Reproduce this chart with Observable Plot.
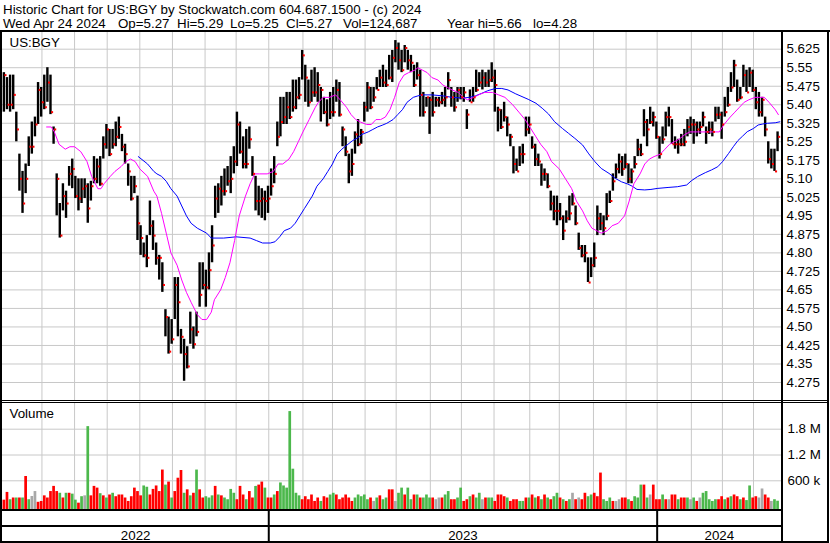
<!DOCTYPE html>
<html><head><meta charset="utf-8">
<script src="https://cdn.jsdelivr.net/npm/d3@7"></script>
<script src="https://cdn.jsdelivr.net/npm/@observablehq/plot@0.6"></script>
<style>
body{margin:0;background:#fff;}
#root{position:relative;width:830px;height:543px;overflow:hidden;background:#fff;font-family:Arial,"Liberation Sans",sans-serif;}
.ln{position:absolute;background:#000;}
#root svg{position:absolute;}
</style></head><body><div id="root"></div>
<script>
// ---- header text ----
const titleText = "Historic Chart for US:BGY by Stockwatch.com 604.687.1500 - (c) 2024";
const quoteParts = ["Wed Apr 24 2024", "Op=5.27", "Hi=5.29", "Lo=5.25", "Cl=5.27", "Vol=124,687", "Year hi=5.66", "lo=4.28"];
const symbolLabel = "US:BGY";

// ---- price ticks ----
const priceTicks = [4.275,4.35,4.425,4.5,4.575,4.65,4.725,4.8,4.875,4.95,5.025,5.1,5.175,5.25,5.325,5.4,5.475,5.55,5.625];
const priceLabels = ["4.275","4.35","4.425","4.50","4.575","4.65","4.725","4.80","4.875","4.95","5.025","5.10","5.175","5.25","5.325","5.40","5.475","5.55","5.625"];
const volTicks = [600000, 1200000, 1800000];
const volLabels = ["600 k", "1.2 M", "1.8 M"];

// month starts (trading-session index, session 0 = first bar), year starts, year labels
const monthStarts = [25,46,67,88,109,130,150,171,193,212,233,253,275,295,316,339,358,380,401,421,443,463,483];
const yearStarts = [171, 421];
const yearLabels = ["2022", "2023", "2024"];

// ---- price bars: each entry = two trading sessions ----
const hi = [
5.53,5.51,5.52,5.52,5.37,5.20,5.13,5.16,5.27,5.33,
5.35,5.49,5.47,5.52,5.55,5.52,5.31,5.12,5.00,5.08,
5.05,5.15,5.18,5.11,5.10,5.10,5.10,5.08,5.09,5.19,
5.18,5.19,5.27,5.32,5.30,5.30,5.33,5.35,5.28,5.24,
5.16,5.11,5.11,5.03,4.91,4.84,4.87,5.01,4.93,4.84,
4.79,4.76,4.57,4.54,4.53,4.70,4.70,4.49,4.45,4.42,
4.56,4.50,4.56,4.76,4.76,4.73,4.80,4.91,5.07,5.08,
5.11,5.14,5.15,5.19,5.23,5.37,5.33,5.27,5.30,5.31,
5.19,5.11,5.07,5.06,5.05,5.07,5.14,5.19,5.33,5.43,
5.43,5.45,5.45,5.50,5.50,5.51,5.62,5.56,5.50,5.54,
5.55,5.53,5.47,5.43,5.42,5.45,5.47,5.50,5.49,5.31,
5.27,5.20,5.22,5.29,5.34,5.30,5.41,5.49,5.47,5.47,
5.51,5.54,5.56,5.54,5.60,5.62,5.66,5.65,5.62,5.64,
5.62,5.60,5.56,5.57,5.54,5.45,5.43,5.43,5.45,5.43,
5.43,5.45,5.47,5.53,5.47,5.45,5.47,5.47,5.47,5.38,
5.46,5.47,5.54,5.53,5.54,5.53,5.54,5.57,5.54,5.39,
5.38,5.41,5.35,5.28,5.23,5.18,5.23,5.24,5.35,5.35,
5.27,5.24,5.20,5.16,5.14,5.12,5.05,5.03,5.03,5.00,
4.95,4.97,5.03,5.04,4.99,4.88,4.83,4.83,4.78,4.78,
4.84,4.99,4.96,4.95,5.04,5.05,5.12,5.16,5.20,5.19,
5.20,5.16,5.14,5.19,5.26,5.24,5.38,5.34,5.39,5.37,
5.33,5.27,5.31,5.37,5.39,5.34,5.27,5.26,5.28,5.30,
5.34,5.35,5.34,5.33,5.33,5.37,5.31,5.33,5.33,5.39,
5.39,5.37,5.43,5.47,5.53,5.58,5.50,5.47,5.56,5.54,
5.55,5.54,5.47,5.45,5.43,5.35,5.25,5.22,5.22,5.29];
const lo = [
5.37,5.38,5.37,5.38,5.25,5.05,4.96,5.04,5.15,5.20,
5.27,5.32,5.35,5.38,5.41,5.36,5.24,4.95,4.86,4.97,
4.94,5.07,5.06,5.02,4.97,5.00,5.02,4.92,5.01,5.08,
5.08,5.07,5.18,5.22,5.19,5.22,5.23,5.26,5.21,5.16,
5.07,5.01,5.04,4.85,4.79,4.78,4.74,4.87,4.81,4.75,
4.69,4.64,4.46,4.39,4.43,4.53,4.46,4.39,4.28,4.33,
4.43,4.41,4.46,4.58,4.65,4.58,4.65,4.76,4.94,4.96,
4.99,5.03,5.07,5.04,5.12,5.15,5.20,5.14,5.14,5.22,
5.11,4.97,4.95,4.94,4.93,4.96,5.03,5.08,5.23,5.27,
5.32,5.32,5.34,5.37,5.38,5.42,5.50,5.41,5.39,5.41,
5.43,5.41,5.33,5.36,5.31,5.34,5.35,5.41,5.35,5.23,
5.19,5.08,5.11,5.20,5.23,5.24,5.33,5.37,5.38,5.41,
5.46,5.47,5.47,5.47,5.50,5.49,5.57,5.54,5.53,5.57,
5.54,5.53,5.47,5.50,5.35,5.35,5.39,5.28,5.35,5.39,
5.39,5.40,5.39,5.46,5.39,5.37,5.41,5.42,5.41,5.30,
5.41,5.41,5.45,5.47,5.46,5.47,5.47,5.49,5.37,5.29,
5.30,5.33,5.27,5.23,5.12,5.13,5.15,5.16,5.27,5.28,
5.22,5.15,5.15,5.07,5.09,5.06,4.97,4.93,4.91,4.93,
4.85,4.92,4.93,4.99,4.91,4.81,4.78,4.76,4.68,4.70,
4.74,4.87,4.89,4.87,4.93,5.00,5.05,5.10,5.12,5.11,
5.14,5.08,5.08,5.14,5.19,5.19,5.27,5.23,5.32,5.31,
5.26,5.18,5.24,5.27,5.31,5.24,5.22,5.20,5.23,5.23,
5.27,5.28,5.24,5.27,5.28,5.31,5.24,5.28,5.27,5.33,
5.34,5.26,5.35,5.39,5.45,5.47,5.41,5.42,5.47,5.45,
5.47,5.45,5.38,5.35,5.35,5.27,5.16,5.14,5.13,5.21];
const cl = [
5.52,5.40,5.40,5.44,5.30,5.10,5.00,5.10,5.23,5.23,
5.32,5.46,5.41,5.39,5.49,5.37,5.30,5.10,4.87,5.03,
5.00,5.12,5.14,5.03,5.02,5.06,5.07,4.98,5.07,5.10,
5.15,5.08,5.24,5.30,5.20,5.24,5.27,5.31,5.23,5.20,
5.13,5.02,5.07,4.92,4.86,4.79,4.78,4.91,4.87,4.78,
4.78,4.67,4.54,4.40,4.45,4.67,4.60,4.46,4.39,4.34,
4.49,4.43,4.48,4.63,4.67,4.66,4.73,4.83,5.02,5.06,
5.05,5.05,5.09,5.10,5.17,5.32,5.21,5.16,5.16,5.26,
5.12,5.01,5.01,5.02,5.01,5.02,5.07,5.12,5.27,5.33,
5.35,5.39,5.35,5.39,5.43,5.44,5.60,5.51,5.41,5.45,
5.45,5.48,5.46,5.37,5.32,5.37,5.37,5.46,5.36,5.30,
5.21,5.13,5.16,5.28,5.24,5.29,5.39,5.47,5.39,5.43,
5.46,5.51,5.49,5.48,5.51,5.59,5.63,5.58,5.54,5.63,
5.58,5.57,5.48,5.52,5.44,5.37,5.43,5.42,5.37,5.42,
5.41,5.42,5.43,5.50,5.43,5.39,5.46,5.43,5.45,5.36,
5.41,5.43,5.46,5.49,5.51,5.49,5.50,5.51,5.48,5.38,
5.31,5.35,5.32,5.27,5.16,5.13,5.20,5.20,5.30,5.32,
5.23,5.18,5.17,5.12,5.12,5.07,5.00,4.97,4.97,4.94,
4.89,4.94,4.96,5.00,4.92,4.82,4.79,4.80,4.68,4.75,
4.78,4.94,4.92,4.90,4.95,5.01,5.09,5.14,5.17,5.14,
5.16,5.10,5.13,5.16,5.22,5.20,5.33,5.30,5.33,5.35,
5.27,5.20,5.26,5.35,5.35,5.24,5.24,5.24,5.24,5.25,
5.31,5.32,5.32,5.30,5.31,5.35,5.29,5.30,5.29,5.36,
5.36,5.32,5.37,5.40,5.47,5.56,5.42,5.43,5.52,5.45,
5.53,5.46,5.41,5.37,5.42,5.30,5.18,5.16,5.13,5.27];

// ---- volume (shares) and direction (g = up, r = down, n = unchanged) ----
const vol = [
150000,330000,160000,200000,200000,200000,200000,700000,160000,235000,
350000,100000,120000,250000,200000,350000,470000,350000,310000,200000,
310000,310000,290000,150000,80000,230000,250000,1860000,250000,470000,
430000,300000,250000,200000,270000,310000,230000,270000,270000,200000,
120000,230000,430000,350000,250000,480000,450000,270000,400000,480000,
350000,850000,500000,570000,200000,350000,660000,840000,310000,390000,
250000,310000,850000,390000,200000,230000,200000,250000,470000,270000,
250000,200000,160000,400000,310000,160000,470000,270000,160000,350000,
200000,470000,500000,570000,430000,200000,200000,270000,350000,550000,
480000,430000,2210000,870000,310000,250000,160000,230000,160000,270000,
120000,200000,120000,230000,200000,270000,310000,270000,160000,200000,
270000,200000,120000,200000,270000,230000,270000,160000,200000,120000,
200000,250000,160000,200000,390000,390000,120000,310000,430000,270000,
430000,160000,270000,270000,200000,200000,270000,200000,200000,160000,
200000,200000,270000,350000,160000,160000,200000,430000,120000,160000,
230000,270000,200000,310000,160000,200000,200000,200000,120000,270000,
270000,230000,200000,120000,160000,160000,120000,120000,200000,200000,
270000,200000,230000,160000,270000,200000,160000,230000,310000,200000,
160000,120000,160000,310000,160000,200000,160000,310000,230000,270000,
310000,230000,780000,160000,120000,200000,120000,120000,160000,200000,
200000,160000,120000,230000,200000,500000,500000,200000,270000,500000,
160000,160000,270000,160000,160000,270000,270000,160000,200000,200000,
200000,160000,200000,120000,200000,310000,350000,160000,120000,160000,
160000,230000,160000,200000,230000,270000,230000,160000,200000,140000,
480000,200000,230000,200000,410000,270000,200000,120000,160000,125000];
const volDir = [
"r","r","g","r","g","r","g","r","g","n",
"n","r","r","r","r","r","r","r","g","r",
"g","r","g","g","r","g","n","g","r","r",
"r","g","r","g","r","g","r","r","r","r",
"r","r","r","r","r","g","g","r","r","r",
"r","r","g","r","g","r","r","r","g","r",
"g","r","g","r","r","g","g","g","r","g",
"r","g","g","g","g","r","r","r","g","r",
"r","g","r","r","g","r","r","g","r","g",
"g","g","g","g","g","g","r","r","r","r",
"r","r","g","r","r","g","g","r","r","r",
"r","r","r","g","g","g","g","g","r","n",
"g","r","g","g","r","r","n","g","g","r",
"g","g","r","g","r","g","g","g","r","n",
"n","r","g","g","r","r","g","g","r","r",
"g","r","g","g","n","r","g","g","r","r",
"r","r","g","r","r","r","g","g","r","g",
"r","g","r","g","r","g","r","g","g","r",
"g","r","g","n","r","n","r","r","g","g",
"r","r","r","g","g","g","r","n","n","r",
"r","g","r","g","g","g","r","g","n","r",
"r","r","g","r","n","r","r","g","r","r",
"g","n","g","r","n","g","g","g","g","g",
"r","r","g","r","g","r","r","g","r","g",
"g","r","r","n","n","r","r","n","g","g"];

// ---- moving averages: [session, price] ----
const maFast = [
[28,5.31],[31,5.31],[33,5.29],[36,5.24],[40,5.22],[43,5.23],[46,5.23],[50,5.21],[54,5.17],[57,5.11],
[61,5.06],[63,5.06],[65,5.08],[69,5.11],[72,5.13],[76,5.15],[79,5.17],[82,5.18],[85,5.17],[88,5.14],
[93,5.11],[97,5.05],[99,5.03],[102,4.96],[105,4.88],[108,4.80],[112,4.75],[115,4.69],[118,4.64],[121,4.60],
[125,4.55],[128,4.53],[131,4.53],[134,4.56],[136,4.61],[140,4.65],[143,4.70],[146,4.76],[149,4.85],[152,4.95],
[156,5.03],[159,5.08],[162,5.12],[165,5.12],[170,5.12],[174,5.13],[177,5.16],[180,5.16],[184,5.18],[187,5.21],
[190,5.25],[193,5.29],[197,5.34],[201,5.39],[203,5.41],[206,5.43],[210,5.43],[214,5.44],[217,5.42],[221,5.39],
[224,5.36],[227,5.34],[230,5.33],[234,5.32],[237,5.32],[240,5.34],[243,5.34],[246,5.35],[249,5.38],[252,5.43],
[255,5.49],[258,5.52],[261,5.53],[265,5.54],[267,5.55],[270,5.54],[273,5.53],[276,5.51],[280,5.50],[283,5.48],
[286,5.47],[289,5.46],[293,5.45],[296,5.43],[299,5.42],[303,5.43],[306,5.44],[310,5.45],[315,5.45],[319,5.44],
[323,5.43],[328,5.40],[332,5.37],[336,5.34],[339,5.31],[343,5.27],[346,5.24],[350,5.21],[353,5.17],[358,5.14],
[362,5.10],[366,5.06],[369,5.01],[373,4.97],[376,4.93],[379,4.90],[382,4.89],[385,4.88],[389,4.89],[392,4.91],
[396,4.92],[400,4.95],[403,5.01],[406,5.08],[410,5.12],[413,5.16],[416,5.18],[419,5.19],[423,5.20],[426,5.22],
[429,5.24],[432,5.25],[435,5.26],[439,5.28],[442,5.29],[446,5.29],[450,5.29],[455,5.29],[458,5.29],[461,5.29],
[464,5.32],[468,5.35],[471,5.37],[474,5.39],[477,5.41],[480,5.42],[484,5.43],[487,5.43],[490,5.43],[493,5.41],
[497,5.38],[499,5.36]];
const maSlow = [
[87,5.19],[93,5.16],[97,5.13],[99,5.12],[102,5.11],[105,5.09],[108,5.06],[112,5.03],[115,4.99],[118,4.95],
[121,4.92],[125,4.90],[128,4.89],[131,4.88],[134,4.86],[142,4.86],[150,4.865],[159,4.86],[163,4.85],[167,4.84],
[172,4.84],[175,4.845],[178,4.865],[181,4.89],[185,4.90],[188,4.92],[191,4.95],[194,4.98],[197,5.01],[199,5.03],
[202,5.07],[206,5.10],[209,5.13],[212,5.16],[215,5.20],[218,5.22],[222,5.24],[225,5.255],[228,5.265],[231,5.28],
[235,5.29],[238,5.30],[241,5.31],[244,5.317],[247,5.325],[251,5.34],[254,5.36],[257,5.38],[260,5.41],[264,5.43],
[267,5.436],[270,5.44],[276,5.44],[283,5.436],[289,5.43],[296,5.427],[300,5.43],[304,5.436],[308,5.446],[312,5.457],
[317,5.466],[321,5.466],[325,5.46],[330,5.444],[334,5.433],[338,5.422],[343,5.406],[347,5.386],[351,5.363],[355,5.331],
[360,5.304],[364,5.284],[368,5.264],[373,5.237],[377,5.201],[381,5.169],[385,5.142],[390,5.122],[394,5.102],[398,5.088],
[402,5.079],[405,5.07],[408,5.057],[413,5.055],[417,5.057],[421,5.061],[428,5.065],[434,5.068],[440,5.075],[443,5.092],
[447,5.109],[452,5.125],[456,5.136],[460,5.149],[463,5.169],[467,5.203],[470,5.23],[473,5.255],[476,5.273],[479,5.291],
[483,5.304],[486,5.318],[489,5.322],[492,5.325],[497,5.327],[500,5.331]];

// ---- build ----
const FONT = "Arial, 'Liberation Sans', sans-serif";
const FS = 13.33;
const GRID = "#c8c8c8";
const VOLCOL = {g: "#4cb84c", r: "#ff0000", n: "#a8a8a8"};
const xDom = [-0.386, 501.03];
const root = document.getElementById("root");
const style = {background: "transparent", fontFamily: FONT, fontSize: FS + "px", color: "#000", overflow: "visible"};

const bars = cl.map((c, i) => ({s: 2 * i + 0.5, hi: hi[i], lo: lo[i], cl: c, v: vol[i], d: volDir[i]}));
const priceLabelMap = new Map(priceTicks.map((t, i) => [t, priceLabels[i]]));
const volLabelMap = new Map(volTicks.map((t, i) => [t, volLabels[i]]));

// header
const hdr = d3.create("svg").attr("width", 830).attr("height", 30)
  .style("left", "0px").style("top", "0px")
  .attr("font-family", FONT).attr("font-size", FS);
hdr.append("text").attr("x", 3).attr("y", 13.5).text(titleText);
const quoteX = [3, 118, 177, 230, 286, 343, 447, 533];
quoteParts.forEach((t, i) => hdr.append("text").attr("x", quoteX[i]).attr("y", 27.5).text(t));
root.appendChild(hdr.node());

// price panel
const price = Plot.plot({
  width: 830, height: 369,
  marginLeft: 2, marginRight: 49, marginTop: 0, marginBottom: 0,
  style,
  x: {domain: xDom, axis: null},
  y: {domain: [4.2021, 5.6967], axis: null},
  marks: [
    Plot.ruleY(priceTicks, {stroke: GRID, strokeWidth: 1}),
    Plot.ruleX(monthStarts, {stroke: GRID, strokeWidth: 1}),
    Plot.ruleX(bars, {x: "s", y1: "lo", y2: "hi", stroke: "#000", strokeWidth: 2.4}),
    Plot.line(maSlow, {x: d => d[0], y: d => d[1], stroke: "#0000ff", strokeWidth: 1}),
    Plot.line(maFast, {x: d => d[0], y: d => d[1], stroke: "#ff00ff", strokeWidth: 1}),
    Plot.dot(bars, {x: "s", y: "cl", symbol: "square", r: 1.15, fill: "#ff0000", stroke: null, dx: 1.6}),
    Plot.axisY(priceTicks, {anchor: "right", label: null, tickSize: 0, tickPadding: 5, tickFormat: d => priceLabelMap.get(d), fontSize: FS, fill: "#000"}),
    Plot.text([symbolLabel], {frameAnchor: "top-left", textAnchor: "start", lineAnchor: "top", dx: 7, dy: 6, fontSize: FS, fill: "#000"})
  ]
});
price.style.left = "0px"; price.style.top = "31px";
root.appendChild(price);

// volume panel
const VMIN = -67400, VMAX = 2421000;
const volume = Plot.plot({
  width: 830, height: 108,
  marginLeft: 2, marginRight: 49, marginTop: 0, marginBottom: 1,
  style,
  x: {domain: xDom, axis: null},
  y: {domain: [VMIN, VMAX], axis: null},
  color: {type: "identity"},
  marks: [
    Plot.ruleY(volTicks, {stroke: GRID, strokeWidth: 1}),
    Plot.ruleX(monthStarts, {stroke: GRID, strokeWidth: 1}),
    Plot.ruleX(bars, {x: "s", y1: () => VMIN, y2: "v", stroke: d => VOLCOL[d.d], strokeWidth: 2.7}),
    Plot.axisY(volTicks, {anchor: "right", label: null, tickSize: 0, tickPadding: 6, tickFormat: d => volLabelMap.get(d), fontSize: FS, fill: "#000"}),
    Plot.text(["Volume"], {frameAnchor: "top-left", textAnchor: "start", lineAnchor: "top", dx: 7, dy: 6, fontSize: FS, fill: "#000"})
  ]
});
volume.style.left = "0px"; volume.style.top = "402px";
root.appendChild(volume);

// year band
const bounds = [xDom[0], ...yearStarts, xDom[1]];
const yearPos = yearLabels.map((t, i) => ({t, x: (bounds[i] + bounds[i + 1]) / 2}));
const band = Plot.plot({
  width: 830, height: 33,
  marginLeft: 2, marginRight: 49, marginTop: 0, marginBottom: 2,
  style,
  x: {domain: xDom, axis: null},
  y: {domain: [0, 1], axis: null},
  marks: [
    Plot.ruleX(yearStarts, {stroke: "#000", strokeWidth: 2}),
    Plot.text(yearPos, {x: "x", text: "t", frameAnchor: "top", lineAnchor: "top", dy: 20, fontSize: FS, fill: "#000"})
  ]
});
band.style.left = "0px"; band.style.top = "510px";
root.appendChild(band);

// frame lines
const lines = [
  [0, 30, 830, 2], [0, 30, 2, 513], [827, 30, 2, 513], [781, 30, 2, 513],
  [0, 400, 829, 1], [0, 402, 829, 1],
  [0, 509, 783, 2], [0, 525, 783, 2], [0, 541, 829, 2]
];
lines.forEach(([l, t, w, h]) => {
  const d = document.createElement("div");
  d.className = "ln";
  d.style.cssText = `left:${l}px;top:${t}px;width:${w}px;height:${h}px;`;
  root.appendChild(d);
});
</script></body></html>
